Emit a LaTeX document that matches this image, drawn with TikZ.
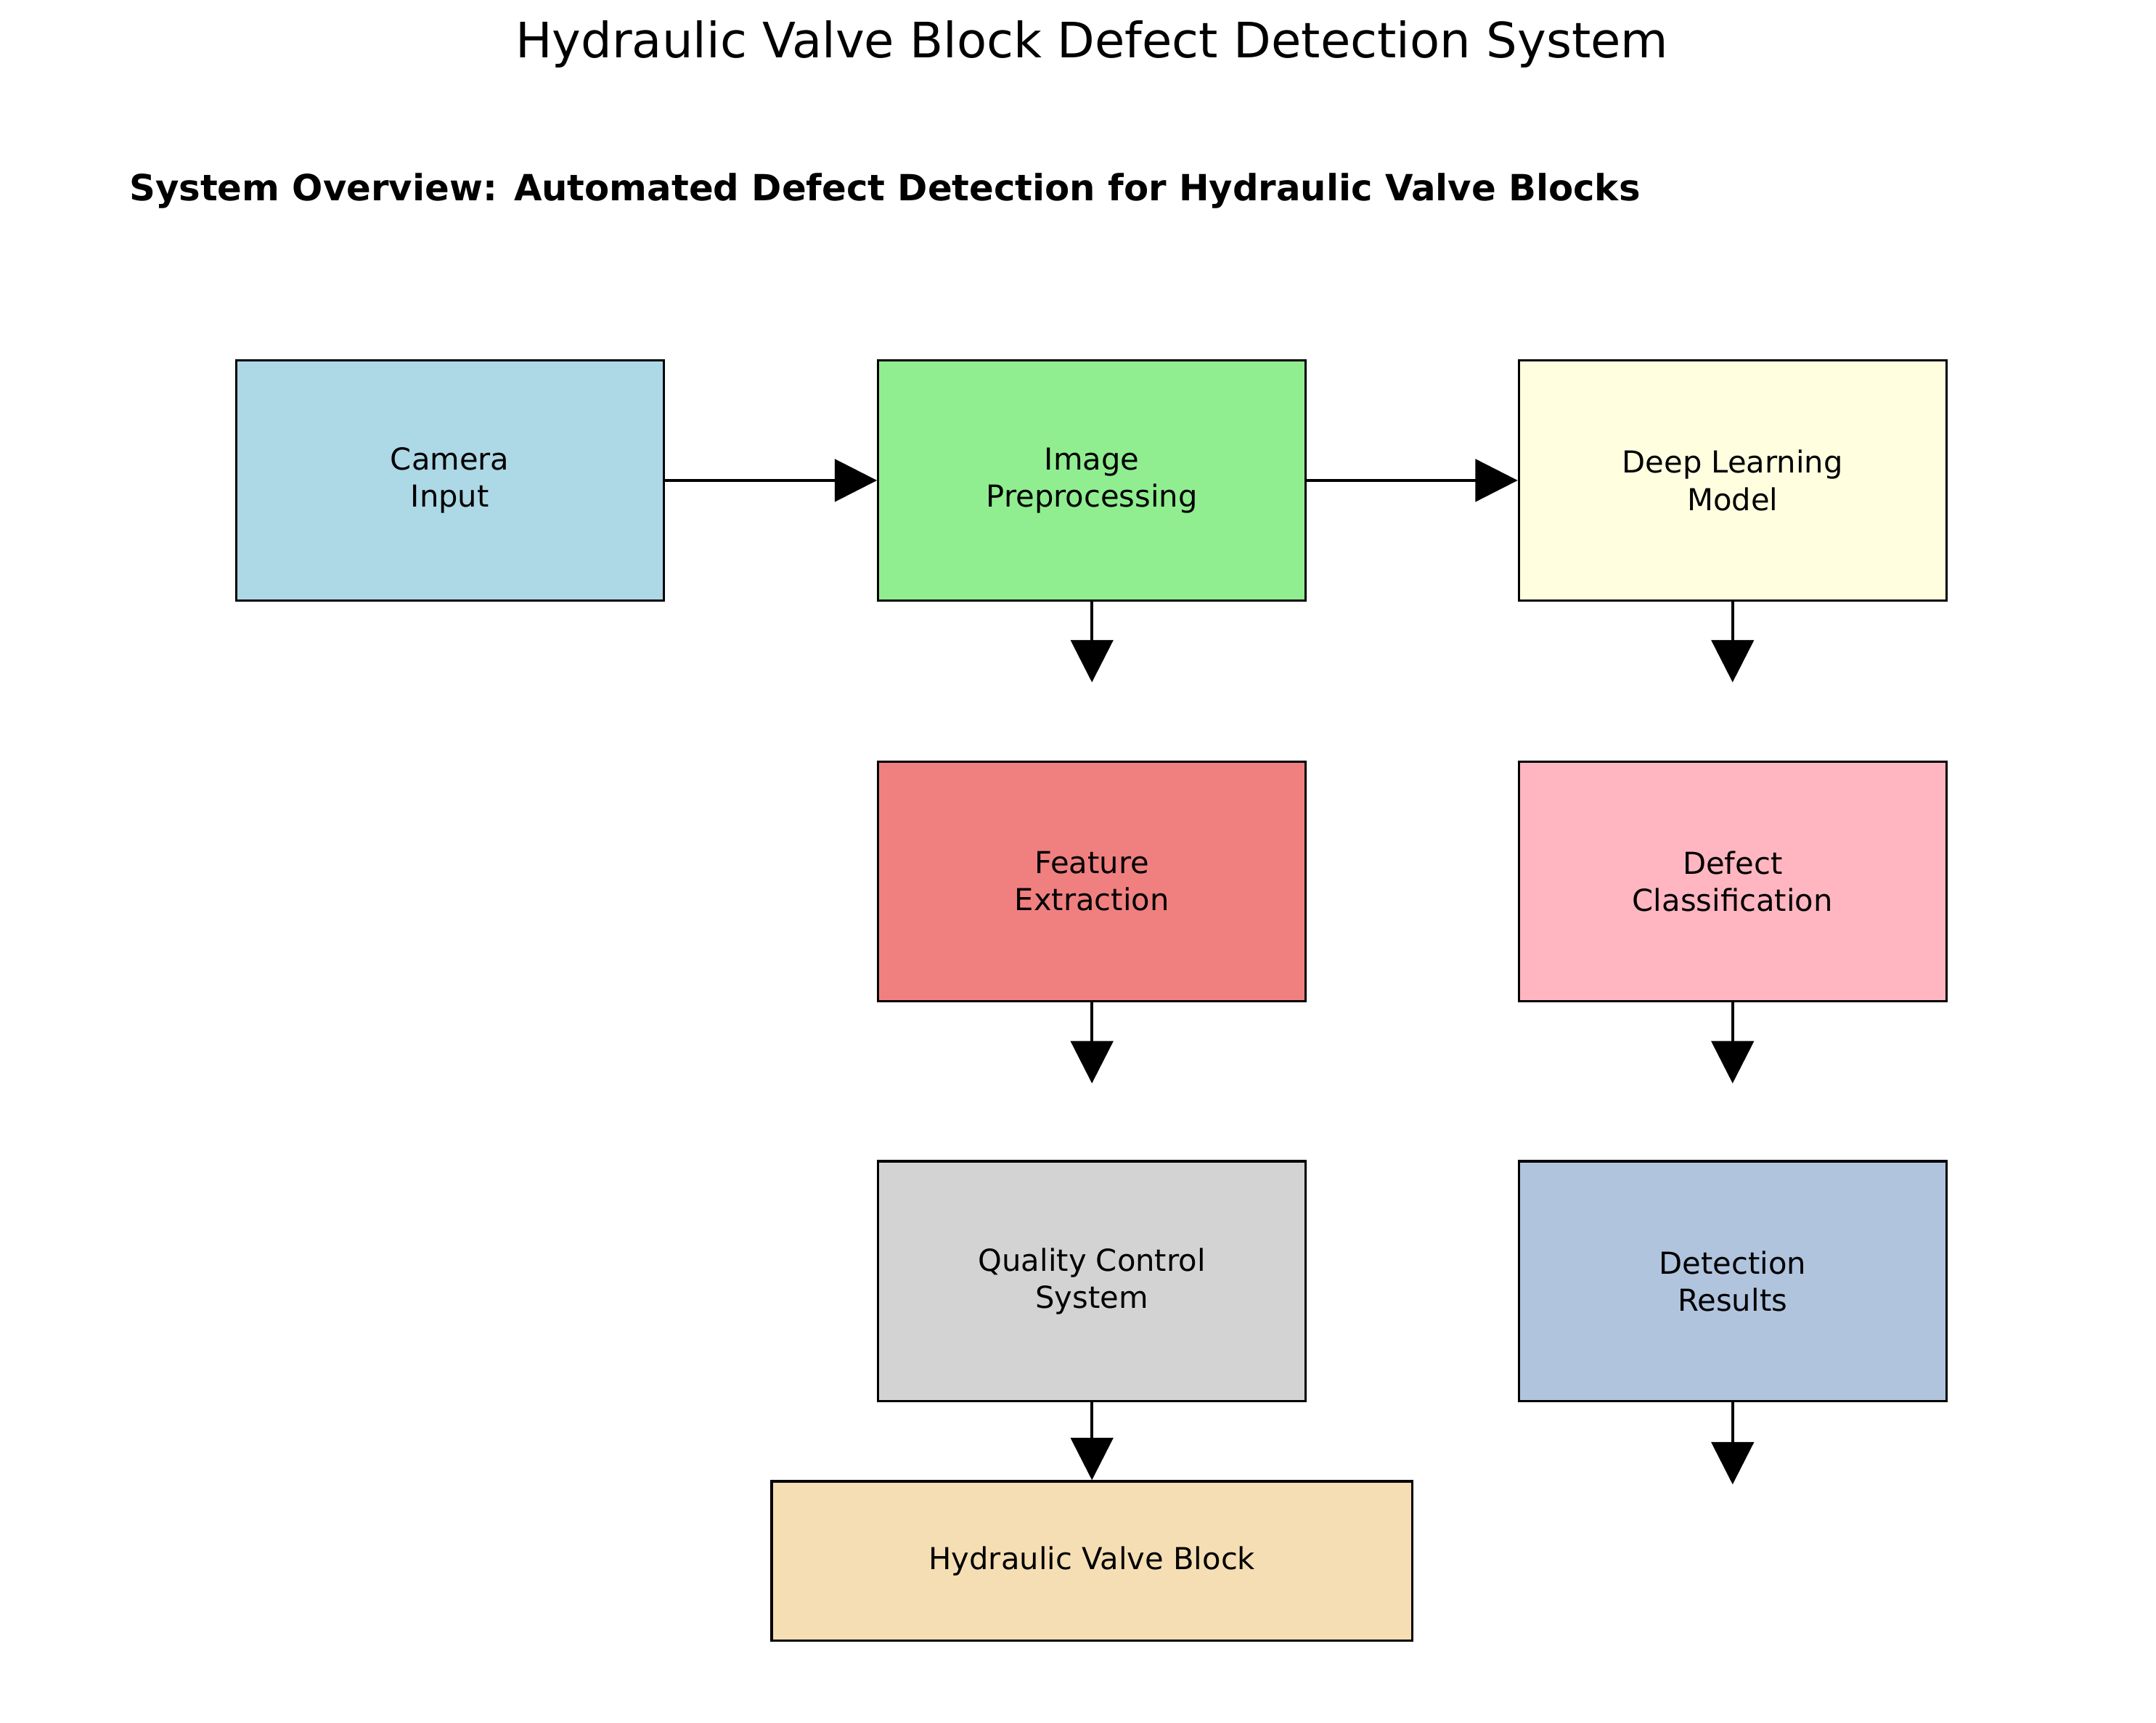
\documentclass[tikz,border=0pt]{standalone}
\usepackage{fontspec}
\setmainfont{DejaVu Sans}
\usetikzlibrary{arrows.meta}
\definecolor{cA}{HTML}{ADD8E6}\definecolor{cB}{HTML}{90EE90}\definecolor{cC}{HTML}{FFFFE0}
\definecolor{cD}{HTML}{F08080}\definecolor{cE}{HTML}{FFB6C1}\definecolor{cF}{HTML}{D3D3D3}
\definecolor{cG}{HTML}{B0C4DE}\definecolor{cH}{HTML}{F5DEB3}
\begin{document}
\begin{tikzpicture}[x=0.00987in,y=-0.00987in,
 box/.style={draw=black,line width=1.2pt,minimum width=3.03in,minimum height=1.70in,inner sep=0pt,align=center,font=\fontsize{15.5}{19}\selectfont},
 arr/.style={line width=1.5pt,-{Triangle[length=0.3in,width=0.3in]}}]
\useasboundingbox (0,0) rectangle (1548,1237);
\node[font=\fontsize{25}{30}\selectfont] (t) at (784,32) {Hydraulic Valve Block Defect Detection System};
\node[font=\fontsize{18.5}{22}\selectfont\bfseries,anchor=west] (s) at (88,137) {System Overview: Automated Defect Detection for Hydraulic Valve Blocks};
\node[box,fill=cA] (cam) at (323,345) {Camera\\Input};
\node[box,fill=cB] (img) at (784,345) {Image\\Preprocessing};
\node[box,fill=cC] (dl) at (1244,345) {Deep Learning\\Model};
\node[box,fill=cD] (fe) at (784,633) {Feature\\Extraction};
\node[box,fill=cE] (dc) at (1244,633) {Defect\\Classification};
\node[box,fill=cF] (qc) at (784,920) {Quality Control\\System};
\node[box,fill=cG] (dr) at (1244,920) {Detection\\Results};
\node[box,fill=cH,minimum width=4.54in,minimum height=1.13in] (hv) at (784,1121) {Hydraulic Valve Block};
\coordinate (a1) at (784,490);\coordinate (a2) at (1244,490);
\coordinate (a3) at (784,778);\coordinate (a4) at (1244,778);
\coordinate (a5) at (1244,1066);
\draw[arr] (cam) -- (img);
\draw[arr] (img) -- (dl);
\draw[arr] (img) -- (a1);
\draw[arr] (dl) -- (a2);
\draw[arr] (fe) -- (a3);
\draw[arr] (dc) -- (a4);
\draw[arr] (qc) -- (hv);
\draw[arr] (dr) -- (a5);
\end{tikzpicture}
\end{document}
